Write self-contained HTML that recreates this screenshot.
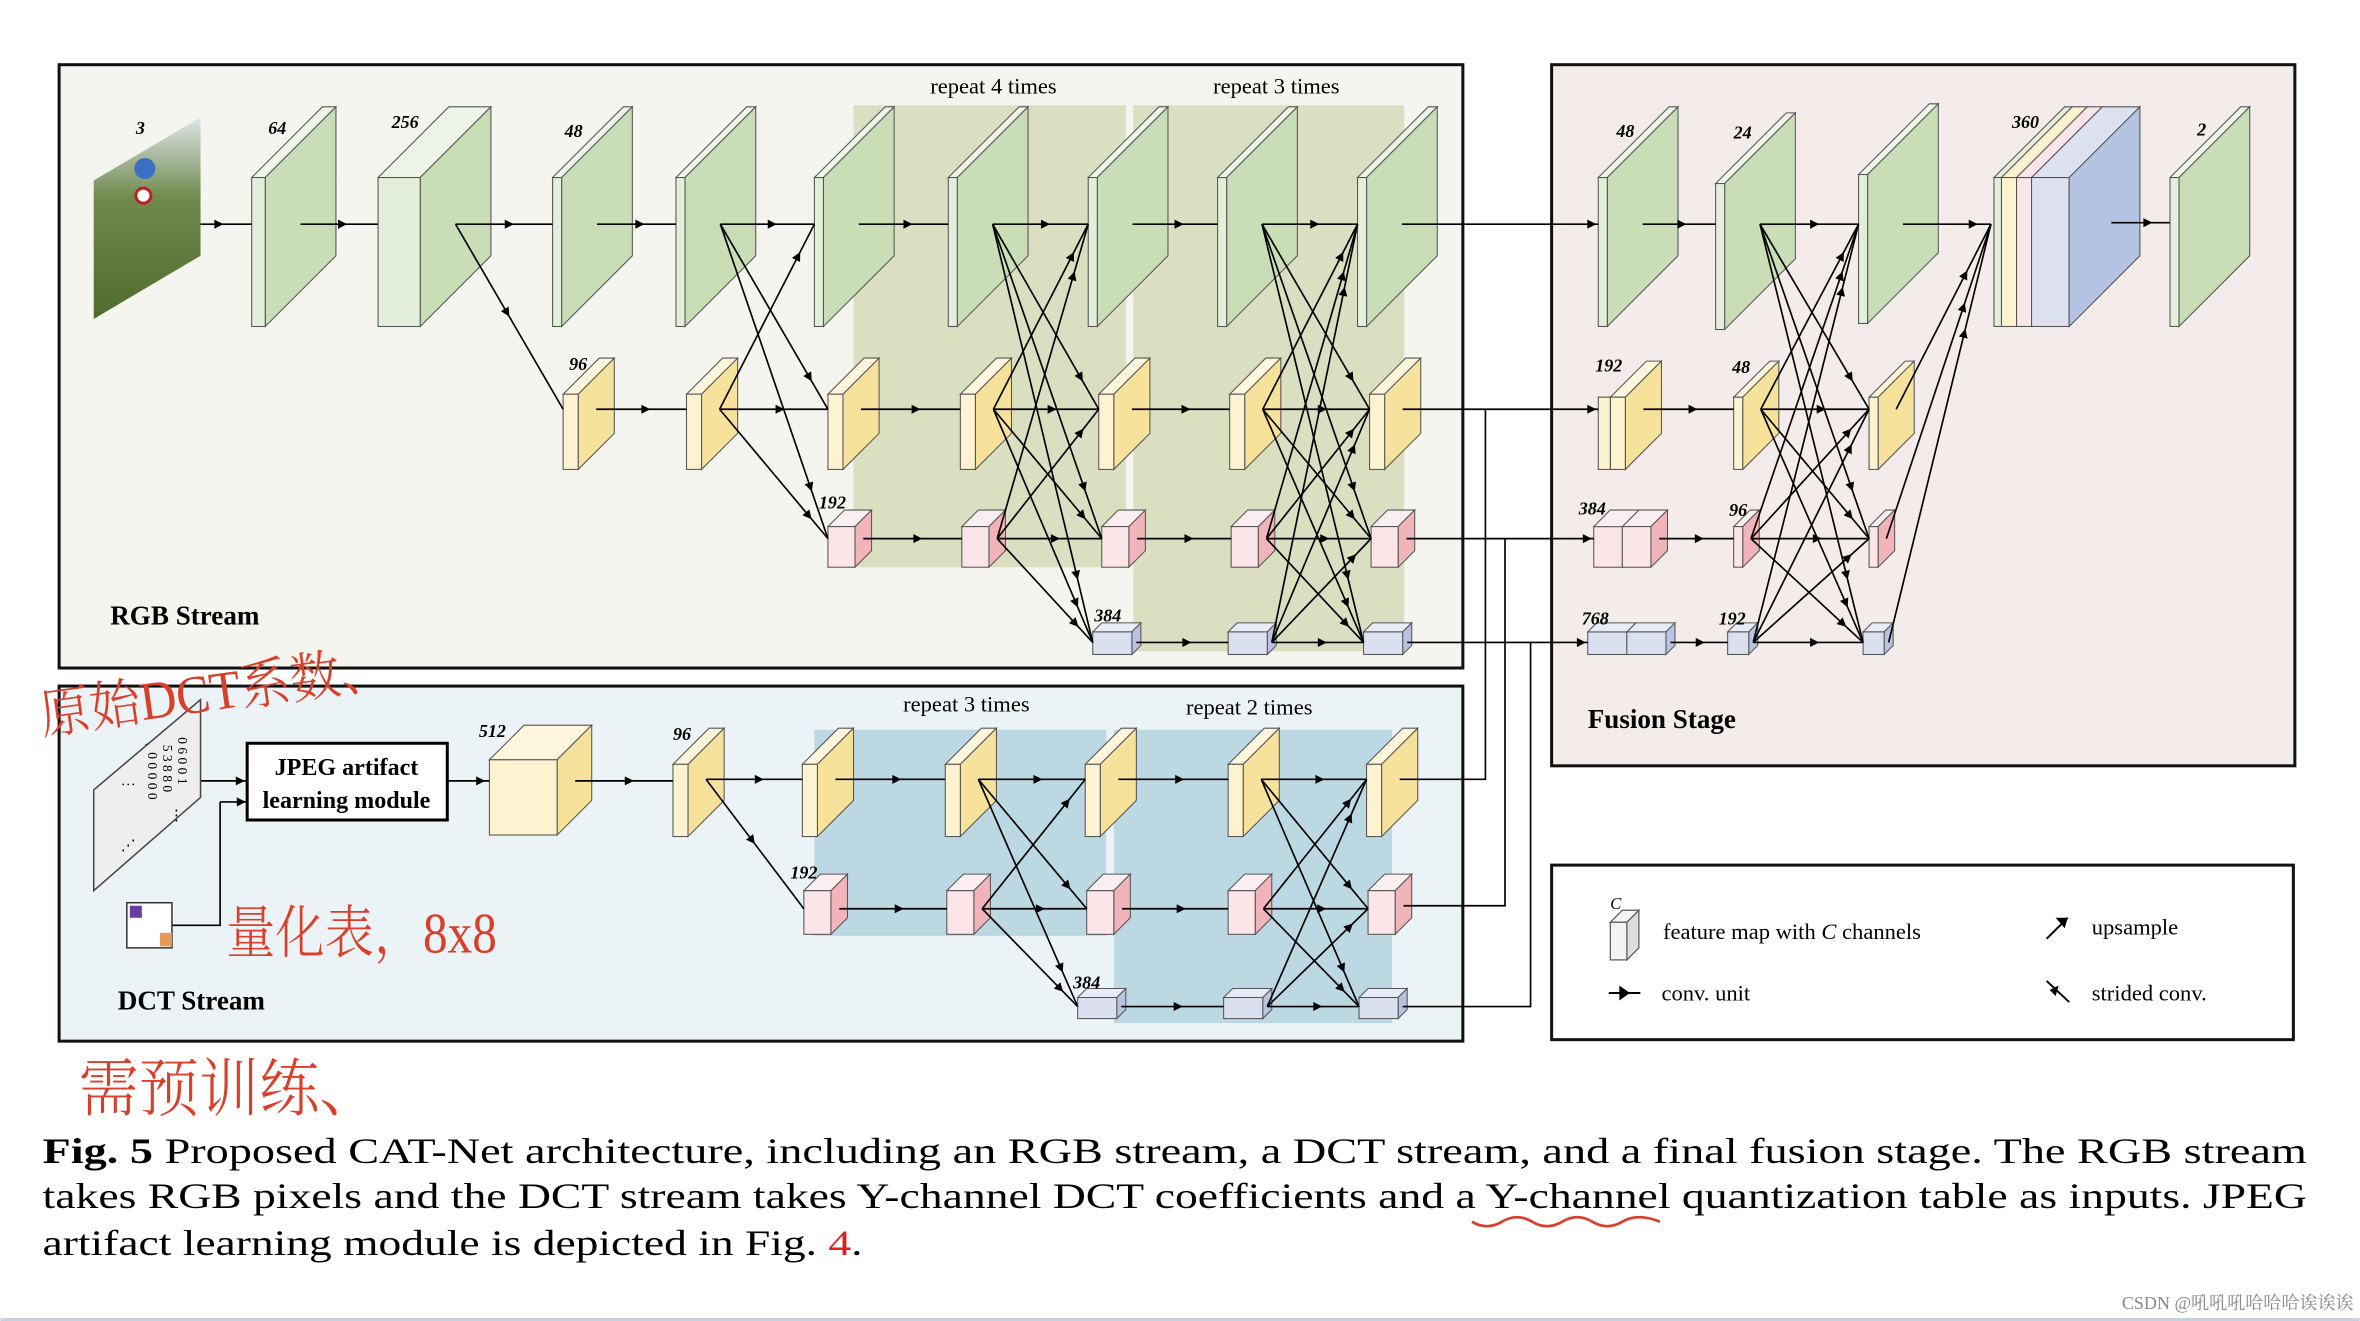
<!DOCTYPE html>
<html><head><meta charset="utf-8">
<style>
html,body{margin:0;padding:0;background:#fff;}
svg{display:block;}
text{font-family:"Liberation Serif","Noto Serif CJK SC",serif;}
.hw{font-family:"Liberation Serif","Noto Serif CJK SC",serif;fill:#d8402c;font-weight:300;}
</style></head>
<body>
<svg id="s" width="2360" height="1321" viewBox="0 0 1568 878" xmlns="http://www.w3.org/2000/svg">
<defs>
<linearGradient id="pic" x1="0" y1="0" x2="0" y2="1"><stop offset="0" stop-color="#dfe6e8"/><stop offset="0.4" stop-color="#6f8a4c"/><stop offset="1" stop-color="#4f6b2e"/></linearGradient>
</defs>
<rect x="39" y="43" width="933" height="401" fill="#f4f5ee" stroke="#111" stroke-width="2"/>
<rect x="39" y="456" width="933" height="236" fill="#ecf3f7" stroke="#111" stroke-width="2"/>
<rect x="1031" y="43" width="494" height="466" fill="#f4ecea" stroke="#111" stroke-width="2"/>
<rect x="1031" y="575" width="493" height="116" fill="#fff" stroke="#111" stroke-width="2"/>
<rect x="567" y="70" width="181" height="307" fill="#d9dfc0"/>
<rect x="753" y="70" width="180" height="363" fill="#d9dfc0"/>
<rect x="541" y="485" width="194" height="137" fill="#bcd8e2"/>
<rect x="740" y="485" width="185" height="195" fill="#bcd8e2"/>
<g id="shapes"></g>
<g id="lines" stroke="#000" stroke-width="1.1" fill="none"></g>
<g id="heads" fill="#000"></g>
<polygon points="62,120 133,78 133,170 62,212" fill="url(#pic)"/>
<circle cx="96" cy="112" r="7" fill="#3b6fc4"/>
<circle cx="95" cy="130" r="5" fill="#fff" stroke="#c02020" stroke-width="2"/>
<g font-style="italic" font-weight="bold" font-size="12">
<text x="90" y="89">3</text><text x="178" y="89">64</text><text x="260" y="85">256</text>
<text x="375" y="91">48</text><text x="378" y="246">96</text><text x="544" y="338">192</text>
<text x="727" y="413">384</text>
<text x="1074" y="91">48</text><text x="1152" y="92">24</text><text x="1337" y="85">360</text><text x="1460" y="90">2</text>
<text x="1060" y="247">192</text><text x="1151" y="248">48</text>
<text x="1049" y="342">384</text><text x="1149" y="343">96</text>
<text x="1051" y="415">768</text><text x="1142" y="415">192</text>
<text x="318" y="490">512</text><text x="447" y="492">96</text><text x="525" y="584">192</text><text x="713" y="657">384</text>
<text x="95" y="500" font-size="10">1</text>
</g>
<g font-size="15">
<text x="618" y="62">repeat 4 times</text><text x="806" y="62">repeat 3 times</text>
<text x="600" y="473">repeat 3 times</text><text x="788" y="475">repeat 2 times</text>
</g>
<text x="73" y="415" font-size="18" font-weight="bold">RGB Stream</text>
<text x="78" y="671" font-size="18" font-weight="bold">DCT Stream</text>
<text x="1055" y="484" font-size="18" font-weight="bold">Fusion Stage</text>
<polygon points="62,525 133,465 133,530 62,592" fill="#eeeeee" stroke="#444" stroke-width="1"/>
<text x="98" y="500" font-size="9" transform="rotate(90 98 500)">0 0 0 0 0</text>
<text x="108" y="495" font-size="9" transform="rotate(90 108 495)">5 3 8 8 0</text>
<text x="118" y="490" font-size="9" transform="rotate(90 118 490)">0 6 0 0 1</text>
<text x="80" y="525" font-size="10">⋯</text><text x="112" y="545" font-size="10">⋮</text><text x="80" y="565" font-size="10">⋰</text>
<rect x="84" y="600" width="30" height="30" fill="#fff" stroke="#333"/>
<rect x="86" y="602" width="8" height="8" fill="#6a3ea0"/>
<rect x="106" y="620" width="8" height="9" fill="#e59a55"/>
<rect x="164" y="494" width="133" height="51" fill="#fff" stroke="#000" stroke-width="2"/>
<text x="230" y="515" font-size="16" font-weight="bold" text-anchor="middle">JPEG artifact</text>
<text x="230" y="537" font-size="16" font-weight="bold" text-anchor="middle">learning module</text>
<polygon points="1070,613 1078,605 1089,605 1081,613" fill="#f4f4f4" stroke="#555" stroke-width="0.8"/>
<polygon points="1081,613 1089,605 1089,630 1081,638" fill="#ddd" stroke="#555" stroke-width="0.8"/>
<rect x="1070" y="613" width="11" height="25" fill="#f4f4f4" stroke="#555" stroke-width="0.8"/>
<text x="1070" y="604" font-size="11" font-style="italic">C</text>
<text x="1105" y="624" font-size="15">feature map with <tspan font-style="italic">C</tspan> channels</text>
<text x="1104" y="665" font-size="15">conv. unit</text>
<text x="1390" y="621" font-size="15">upsample</text>
<text x="1390" y="665" font-size="15">strided conv.</text>
<line x1="1069" y1="660" x2="1090" y2="660" stroke="#000" stroke-width="1.3"/>
<polygon points="1076,655 1083,660 1076,665" fill="#000"/>
<line x1="1360" y1="624" x2="1374" y2="610" stroke="#000" stroke-width="1.3"/>
<polygon points="1366,610 1374,610 1372,617" fill="#000"/>
<line x1="1360" y1="652" x2="1375" y2="666" stroke="#000" stroke-width="1.3"/>
<polygon points="1362,658 1368,655 1366,662" fill="#000"/>
<text x="28" y="773" font-size="24" textLength="1505" lengthAdjust="spacingAndGlyphs"><tspan font-weight="bold">Fig. 5</tspan>  Proposed CAT-Net architecture, including an RGB stream, a DCT stream, and a final fusion stage. The RGB stream</text>
<text x="28" y="803" font-size="24" textLength="1505" lengthAdjust="spacingAndGlyphs">takes RGB pixels and the DCT stream takes Y-channel DCT coefficients and a Y-channel quantization table as inputs. JPEG</text>
<text x="28" y="834" font-size="24" textLength="545" lengthAdjust="spacingAndGlyphs">artifact learning module is depicted in Fig. <tspan fill="#e02020">4</tspan>.</text>
<path d="M978,812 q10,6 20,0 t20,0 t20,0 t20,0 t20,0 t25,0" stroke="#d8402c" stroke-width="1.8" fill="none"/>
<text class="hw" x="28" y="488" font-size="36" transform="rotate(-8 28 488)" textLength="235" lengthAdjust="spacingAndGlyphs">原始DCT系数、</text>
<text class="hw" x="150" y="633" font-size="38" textLength="180" lengthAdjust="spacingAndGlyphs">量化表，8x8</text>
<text class="hw" x="52" y="738" font-size="42" textLength="200" lengthAdjust="spacingAndGlyphs">需预训练、</text>
<text x="1410" y="870" font-size="12" fill="#888" font-family="Liberation Sans,Noto Sans CJK SC,sans-serif">CSDN @吼吼吼哈哈哈诶诶诶</text>
<rect x="0" y="876" width="1568" height="2" fill="#c8d0dc"/>
</svg>
<script>
const NS="http://www.w3.org/2000/svg";
const S=document.getElementById('shapes'),L=document.getElementById('lines'),H=document.getElementById('heads');
function el(p,t,a){const e=document.createElementNS(NS,t);for(const k in a)e.setAttribute(k,a[k]);p.appendChild(e);return e;}
function box(x,y,w,h,d,f,sd,tp){
 const st={stroke:'#555','stroke-width':0.7};
 el(S,'polygon',Object.assign({points:`${x},${y} ${x+d},${y-d} ${x+w+d},${y-d} ${x+w},${y}`,fill:tp},st));
 el(S,'polygon',Object.assign({points:`${x+w},${y} ${x+w+d},${y-d} ${x+w+d},${y+h-d} ${x+w},${y+h}`,fill:sd},st));
 el(S,'rect',Object.assign({x:x,y:y,width:w,height:h,fill:f},st));
}
const C={g:['#e3eedb','#c9deb7','#eef4e8'],y:['#fdf3d0','#f7e29c','#fdf6dc'],p:['#fbe5e8','#f2b4bb','#fbeef0'],b:['#dbe0f0','#b7c3e0','#e8ecf6']};
function arrow(x1,y1,x2,y2,t){
 el(L,'line',{x1,y1,x2,y2});
 t=t||0.85;const px=x1+(x2-x1)*t,py=y1+(y2-y1)*t;const a=Math.atan2(y2-y1,x2-x1);
 const s=6,w=3;const bx=px-s*Math.cos(a),by=py-s*Math.sin(a);
 el(H,'polygon',{points:`${px},${py} ${bx-w*Math.sin(a)},${by+w*Math.cos(a)} ${bx+w*Math.sin(a)},${by-w*Math.cos(a)}`});
}
const spec={g:{y:118,h:99,d:47},y:{y:262,h:50,d:24},p:{y:350,h:27,d:11},b:{y:420,h:15,d:6}};
const RY={g:149,y:272,p:358,b:427};
function B(t,x,w,sp,ry){return {t,x,w,sp,ry};}
function draw(b){box(b.x,b.sp.y,b.w,b.sp.h,b.sp.d,...C[b.t]);}
function src(b){return [b.x+b.w+b.sp.d/2,b.ry];}
function dst(b){return [b.x,b.ry];}
function con(a,b,t){const s=src(a),d=dst(b);arrow(s[0],s[1],d[0],d[1],t||(a.ry==b.ry?0.6:0.85));}
function full(A,Bs){A.forEach(a=>Bs.forEach(b=>con(a,b)));}
const G=[[167,9],[251,28],[367,6],[449,6],[541,6],[630,6],[723,6],[809,6],[902,6]].map(v=>B('g',v[0],v[1],spec.g,RY.g));
const Y=[374,456,550,638,730,817,910].map(x=>B('y',x,10,spec.y,RY.y));
const P=[550,639,732,818,911].map(x=>B('p',x,18,spec.p,RY.p));
const Bb=[726,816,906].map(x=>B('b',x,26,spec.b,RY.b));
[...G,...Y,...P,...Bb].forEach(draw);
arrow(120,149,167,149,0.6);
con(G[0],G[1]);con(G[1],G[2]);con(G[1],Y[0],0.5);con(G[2],G[3]);con(Y[0],Y[1]);
full([G[3],Y[1]],[G[4],Y[2],P[0]]);
con(G[4],G[5]);con(Y[2],Y[3]);con(P[0],P[1]);
full([G[5],Y[3],P[1]],[G[6],Y[4],P[2],Bb[0]]);
con(G[6],G[7]);con(Y[4],Y[5]);con(P[2],P[3]);con(Bb[0],Bb[1]);
full([G[7],Y[5],P[3],Bb[1]],[G[8],Y[6],P[4],Bb[2]]);
let s=src(G[8]);arrow(s[0],149,1062,149,0.99);
s=src(Y[6]);arrow(s[0],272,1062,272,0.99);
s=src(P[4]);arrow(s[0],358,1059,358,0.99);
s=src(Bb[2]);arrow(s[0],427,1055,427,0.99);
const dsp={y:{y:508,h:48,d:24},p:{y:592,h:29,d:11},b:{y:663,h:14,d:6}};
const DR={y:518,p:604,b:669};
box(325,505,45,50,23,...C.y);
const DY=[447,533,628,721,816,908].map(x=>B('y',x,10,dsp.y,DR.y));
const DP=[534,629,722,816,909].map(x=>B('p',x,18,dsp.p,DR.p));
const DB=[716,813,903].map(x=>B('b',x,26,dsp.b,DR.b));
[...DY,...DP,...DB].forEach(draw);
arrow(297,519,325,519,0.9);arrow(382,519,447,519,0.6);
arrow(133,519,164,519,0.95);
el(L,'polyline',{points:'114,615 146,615 146,533'});arrow(146,533,164,533,0.95);
con(DY[0],DY[1]);con(DY[0],DP[0],0.5);
con(DY[1],DY[2]);con(DP[0],DP[1]);
full([DY[2],DP[1]],[DY[3],DP[2],DB[0]]);
con(DY[3],DY[4]);con(DP[2],DP[3]);con(DB[0],DB[1]);
full([DY[4],DP[3],DB[1]],[DY[5],DP[4],DB[2]]);
s=src(DY[5]);el(L,'polyline',{points:`${s[0]},518 987,518 987,272`});
s=src(DP[4]);el(L,'polyline',{points:`${s[0]},602 1000,602 1000,358`});
s=src(DB[2]);el(L,'polyline',{points:`${s[0]},669 1017,669 1017,427`});
const F=[B('g',1062,6,spec.g,149),B('g',1140,6,{y:122,h:97,d:47},149),B('g',1235,6,{y:116,h:99,d:47},149)];
F.forEach(draw);
box(1070,264,10,48,24,...C.y);box(1062,264,8,48,0,...C.y);
const FY=[B('y',1062,18,{y:264,h:48,d:24},272),B('y',1152,6,{y:264,h:48,d:24},272),B('y',1242,6,{y:264,h:48,d:24},272)];
FY.slice(1).forEach(draw);
box(1059,350,19,27,0,...C.p);box(1078,350,19,27,11,...C.p);
el(S,'polygon',{points:'1059,350 1070,339 1089,339 1078,350',fill:C.p[2],stroke:'#555','stroke-width':0.7});
const FP=[B('p',1059,38,{y:350,h:27,d:11},358),B('p',1152,6,{y:350,h:27,d:11},358),B('p',1242,6,{y:350,h:27,d:11},358)];
FP.slice(1).forEach(draw);
box(1055,420,26,15,0,...C.b);box(1081,420,26,15,6,...C.b);
el(S,'polygon',{points:'1055,420 1061,414 1087,414 1081,420',fill:C.b[2],stroke:'#555','stroke-width':0.7});
const FB=[B('b',1055,52,{y:420,h:15,d:6},427),B('b',1148,14,{y:420,h:15,d:6},427),B('b',1238,14,{y:420,h:15,d:6},427)];
FB.slice(1).forEach(draw);
con(F[0],F[1]);con(FY[0],FY[1]);con(FP[0],FP[1]);con(FB[0],FB[1]);
full([F[1],FY[1],FP[1],FB[1]],[F[2],FY[2],FP[2],FB[2]]);
[F[2],FY[2],FP[2],FB[2]].forEach(b=>{const q=src(b);arrow(q[0],q[1],1323,149,b.ry==149?0.85:0.75);});
const y0=118,h=99,d=47;
[[1325,5,'#e3eedb'],[1330,10,'#fdf3d0'],[1340,10,'#fbe5e8'],[1350,25,'#dde2f0']].forEach(v=>{
 el(S,'polygon',{points:`${v[0]},${y0} ${v[0]+d},${y0-d} ${v[0]+v[1]+d},${y0-d} ${v[0]+v[1]},${y0}`,fill:v[2],stroke:'#555','stroke-width':0.7});
 el(S,'rect',{x:v[0],y:y0,width:v[1],height:h,fill:v[2],stroke:'#555','stroke-width':0.7});
});
el(S,'polygon',{points:`1375,118 1422,71 1422,170 1375,217`,fill:'#b4c3e2',stroke:'#555','stroke-width':0.7});
arrow(1403,148,1442,148,0.7);
draw(B('g',1442,6,{y:118,h:99,d:47},148));
</script>
</body></html>
